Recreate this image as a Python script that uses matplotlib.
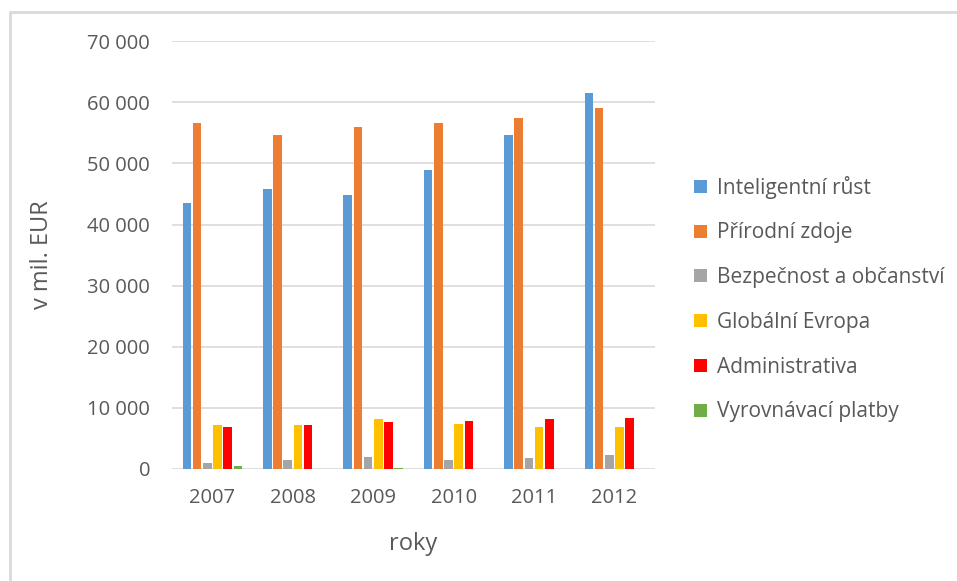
import numpy as np
import matplotlib.pyplot as plt
from matplotlib.patches import Rectangle

# data (mil. EUR)
years = ['2007', '2008', '2009', '2010', '2011', '2012']
inteligentni_rust = [43600, 45800, 44800, 48900, 54600, 61500]
prirodni_zdroje = [56600, 54600, 55900, 56600, 57400, 59000]
bezpecnost = [1000, 1400, 1900, 1400, 1700, 2300]
globalni_evropa = [7100, 7100, 8100, 7400, 6900, 6900]
administrativa = [6800, 7100, 7600, 7800, 8200, 8400]
vyrovnavaci = [400, 0, 200, 0, 0, 0]

series = [inteligentni_rust, prirodni_zdroje, bezpecnost,
          globalni_evropa, administrativa, vyrovnavaci]
labels = ['Inteligentní růst', 'Přírodní zdoje', 'Bezpečnost a občanství',
          'Globální Evropa', 'Administrativa', 'Vyrovnávací platby']
colors = ['#5b9bd5', '#ed7d31', '#a5a5a5', '#ffc000', '#ff0000', '#70ad47']

plt.rcParams['font.family'] = ['Open Sans', 'DejaVu Sans']
txt = '#595959'

fig = plt.figure(figsize=(9.57, 5.81), dpi=100)
ax = fig.add_axes([0.18, 0.193, 0.504, 0.736])

# chart frame
fig.patches.append(Rectangle((10/957, -0.1), 1.2, (581-12)/581 + 0.1,
                             transform=fig.transFigure, fill=False,
                             edgecolor='#d9d9d9', linewidth=2))

x = np.arange(len(years))
slot = 0.127
for i, (vals, lab, c) in enumerate(zip(series, labels, colors)):
    ax.bar(x + (i - 2.5) * slot, vals, width=slot * 0.85, color=c, label=lab,
           zorder=3)

ax.set_xlim(-0.5, len(years) - 0.5)
ax.set_ylim(0, 70000)
ax.set_yticks(np.arange(0, 70001, 10000))
ax.set_yticklabels(['0'] + ['{:,}'.format(v).replace(',', ' ')
                            for v in range(10000, 70001, 10000)])
ax.set_xticks(x)
ax.set_xticklabels(years)
ax.grid(axis='y', color='#d9d9d9', linewidth=1.2, zorder=0)
for s in ax.spines.values():
    s.set_visible(False)
ax.tick_params(length=0, labelsize=14.5, colors=txt)
ax.tick_params(axis='y', pad=16)
ax.tick_params(axis='x', pad=14)

ax.set_ylabel('v mil. EUR', fontsize=17, color=txt, labelpad=24)
ax.set_xlabel('roky', fontsize=17, color=txt, labelpad=17)

ax.legend(loc='center left', bbox_to_anchor=(1.043, 0.397), frameon=False,
          fontsize=15, labelcolor=txt, handlelength=0.6, handleheight=0.6,
          labelspacing=1.14, handletextpad=0.5)

fig.savefig('out.png', dpi=100)
